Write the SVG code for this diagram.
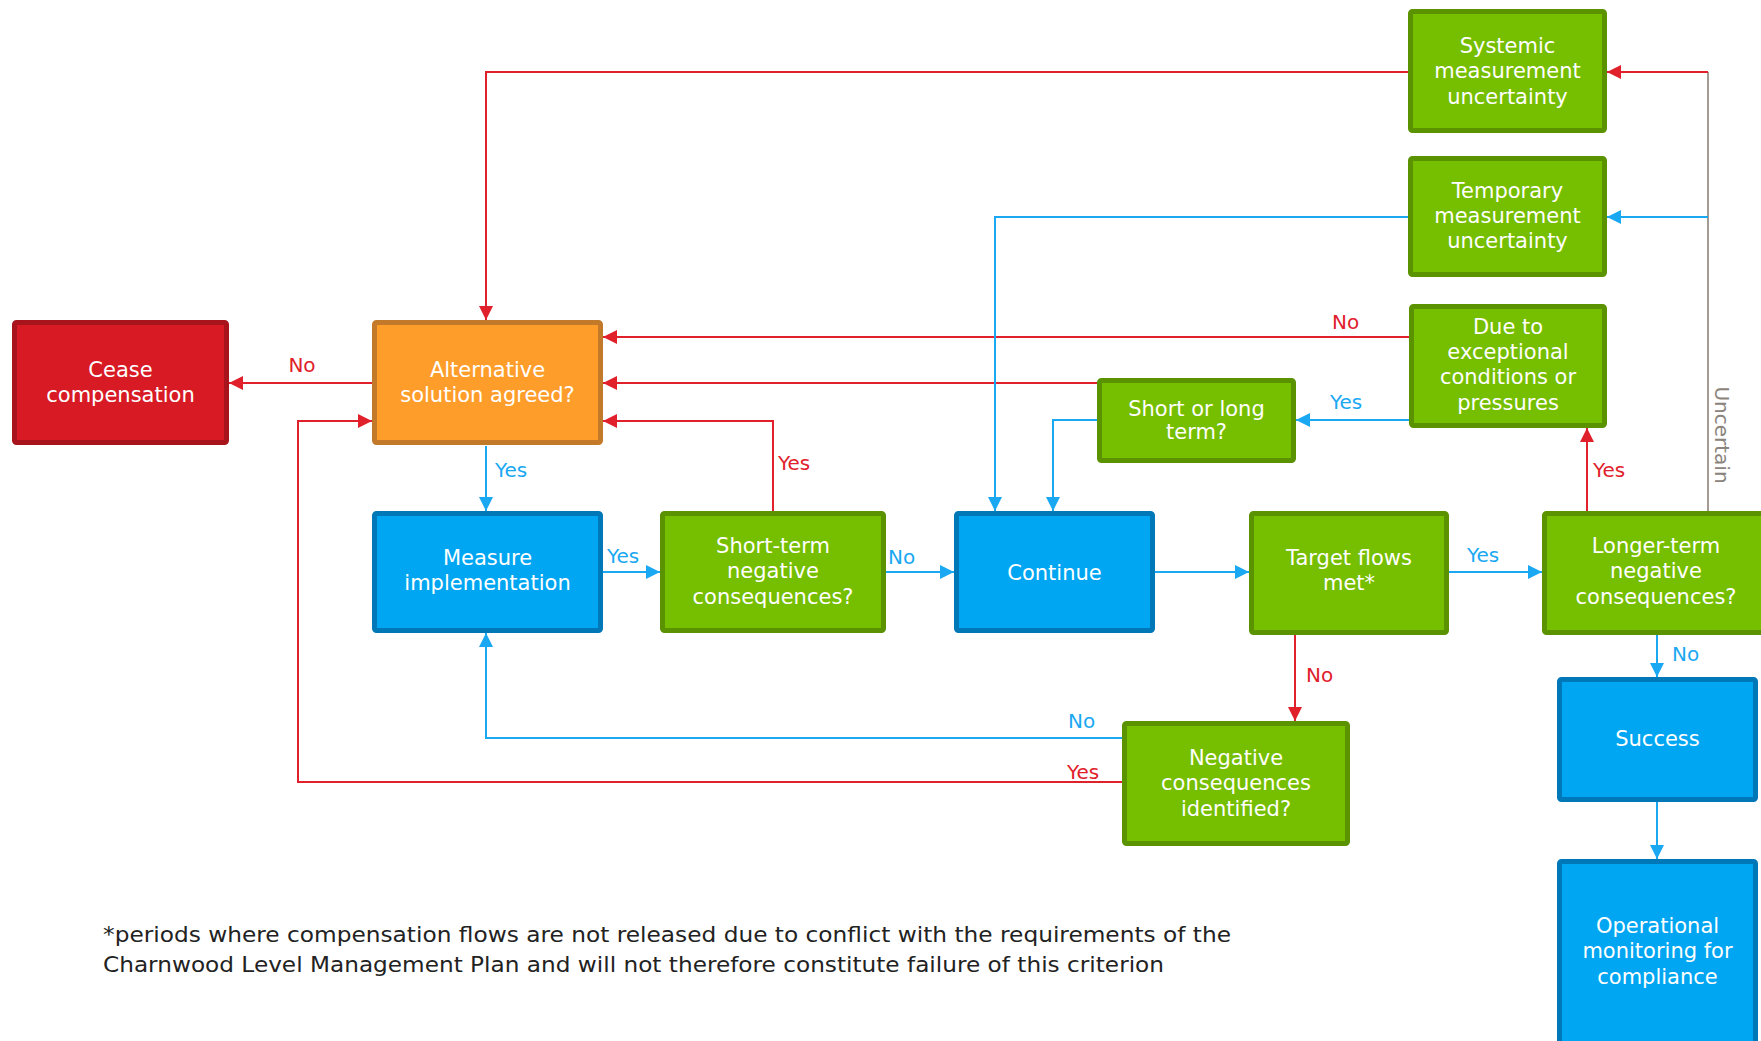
<svg xmlns="http://www.w3.org/2000/svg" width="1761" height="1041" viewBox="0 0 1761 1041">
<style>
.nt{font-family:"DejaVu Sans","Liberation Sans",sans-serif;font-size:21px;fill:#fff;text-anchor:middle}
.lb{font-family:"DejaVu Sans","Liberation Sans",sans-serif;font-size:20px}
.g{fill:#76BE00;stroke:#5A9200;stroke-width:5}
.b{fill:#00A6F2;stroke:#0078B8;stroke-width:5}
.o{fill:#FF9D2A;stroke:#C2792A;stroke-width:5}
.r{fill:#D71A24;stroke:#A8141C;stroke-width:5}
.cr{fill:none;stroke:#E0202B;stroke-width:2}
.cb{fill:none;stroke:#1AA8F2;stroke-width:2}
.cg{fill:none;stroke:#A39B92;stroke-width:2}
.tr{fill:#E0202B}
.tb{fill:#1AA8F2}
.tg{fill:#8A847C}
.fn{font-family:"DejaVu Sans","Liberation Sans",sans-serif;font-size:22px;fill:#222}
</style>
<defs>
<marker id="ar" markerUnits="userSpaceOnUse" markerWidth="14" markerHeight="14" refX="14" refY="7" orient="auto"><path d="M0,0 L14,7 L0,14 z" fill="#E0202B"/></marker>
<marker id="ab" markerUnits="userSpaceOnUse" markerWidth="14" markerHeight="14" refX="14" refY="7" orient="auto"><path d="M0,0 L14,7 L0,14 z" fill="#1AA8F2"/></marker>
</defs>
<rect width="1761" height="1041" fill="#fff"/>
<g id="connectors">
<path class="cr" d="M1408,72 H486 V320" marker-end="url(#ar)"/>
<path class="cg" d="M1708,511 V72"/>
<path class="cr" d="M1708,72 H1607" marker-end="url(#ar)"/>
<path class="cb" d="M1708,217 H1607" marker-end="url(#ab)"/>
<path class="cr" d="M1409,337 H603" marker-end="url(#ar)"/>
<path class="cr" d="M1097,383 H603" marker-end="url(#ar)"/>
<path class="cr" d="M773,511 V421 H603" marker-end="url(#ar)"/>
<path class="cr" d="M372,383 H229" marker-end="url(#ar)"/>
<path class="cr" d="M1295,635 V721" marker-end="url(#ar)"/>
<path class="cr" d="M1587,511 V428" marker-end="url(#ar)"/>
<path class="cr" d="M1122,782 H298 V421 H372" marker-end="url(#ar)"/>
<path class="cb" d="M1408,217 H995 V511" marker-end="url(#ab)"/>
<path class="cb" d="M1409,420 H1296" marker-end="url(#ab)"/>
<path class="cb" d="M1097,420 H1053 V511" marker-end="url(#ab)"/>
<path class="cb" d="M486,446 V511" marker-end="url(#ab)"/>
<path class="cb" d="M603,572 H660" marker-end="url(#ab)"/>
<path class="cb" d="M886,572 H954" marker-end="url(#ab)"/>
<path class="cb" d="M1155,572 H1249" marker-end="url(#ab)"/>
<path class="cb" d="M1449,572 H1542" marker-end="url(#ab)"/>
<path class="cb" d="M1657,635 V677" marker-end="url(#ab)"/>
<path class="cb" d="M1657,802 V859" marker-end="url(#ab)"/>
<path class="cb" d="M1122,738 H486 V633" marker-end="url(#ab)"/>
<text class="lb tr" x="302" y="372" text-anchor="middle">No</text>
<text class="lb tb" x="495" y="477">Yes</text>
<text class="lb tb" x="607" y="563">Yes</text>
<text class="lb tr" x="778" y="470">Yes</text>
<text class="lb tb" x="888" y="564">No</text>
<text class="lb tr" x="1332" y="329">No</text>
<text class="lb tb" x="1330" y="409">Yes</text>
<text class="lb tr" x="1593" y="477">Yes</text>
<text class="lb tb" x="1467" y="562">Yes</text>
<text class="lb tr" x="1306" y="682">No</text>
<text class="lb tb" x="1672" y="661">No</text>
<text class="lb tb" x="1068" y="728">No</text>
<text class="lb tr" x="1067" y="779">Yes</text>
<text class="lb tg" transform="translate(1715,435) rotate(90)" text-anchor="middle">Uncertain</text>
</g>
<g id="cease"><rect class="r" x="14.5" y="322.5" width="212" height="120" rx="2"/><text class="nt" x="120.5" y="377">Cease</text><text class="nt" x="120.5" y="402">compensation</text></g>
<g id="alternative"><rect class="o" x="374.5" y="322.5" width="226" height="120" rx="2"/><text class="nt" x="487.5" y="377">Alternative</text><text class="nt" x="487.5" y="402">solution agreed?</text></g>
<g id="systemic"><rect class="g" x="1410.5" y="11.5" width="194" height="119" rx="2"/><text class="nt" x="1507.5" y="53">Systemic</text><text class="nt" x="1507.5" y="78">measurement</text><text class="nt" x="1507.5" y="104">uncertainty</text></g>
<g id="temporary"><rect class="g" x="1410.5" y="158.5" width="194" height="116" rx="2"/><text class="nt" x="1507.5" y="198">Temporary</text><text class="nt" x="1507.5" y="223">measurement</text><text class="nt" x="1507.5" y="248">uncertainty</text></g>
<g id="dueto"><rect class="g" x="1411.5" y="306.5" width="193" height="119" rx="2"/><text class="nt" x="1508" y="334">Due to</text><text class="nt" x="1508" y="359">exceptional</text><text class="nt" x="1508" y="384">conditions or</text><text class="nt" x="1508" y="410">pressures</text></g>
<g id="shortlong"><rect class="g" x="1099.5" y="380.5" width="194" height="80" rx="2"/><text class="nt" x="1196.5" y="416">Short or long</text><text class="nt" x="1196.5" y="439">term?</text></g>
<g id="measure"><rect class="b" x="374.5" y="513.5" width="226" height="117" rx="2"/><text class="nt" x="487.5" y="565">Measure</text><text class="nt" x="487.5" y="590">implementation</text></g>
<g id="shortterm"><rect class="g" x="662.5" y="513.5" width="221" height="117" rx="2"/><text class="nt" x="773" y="553">Short-term</text><text class="nt" x="773" y="578">negative</text><text class="nt" x="773" y="604">consequences?</text></g>
<g id="continue"><rect class="b" x="956.5" y="513.5" width="196" height="117" rx="2"/><text class="nt" x="1054.5" y="580">Continue</text></g>
<g id="target"><rect class="g" x="1251.5" y="513.5" width="195" height="119" rx="2"/><text class="nt" x="1349" y="565">Target flows</text><text class="nt" x="1349" y="590">met*</text></g>
<g id="longer"><rect class="g" x="1544.5" y="513.5" width="230" height="119" rx="2"/><text class="nt" x="1656" y="553">Longer-term</text><text class="nt" x="1656" y="578">negative</text><text class="nt" x="1656" y="604">consequences?</text></g>
<g id="success"><rect class="b" x="1559.5" y="679.5" width="196" height="120" rx="2"/><text class="nt" x="1657.5" y="746">Success</text></g>
<g id="operational"><rect class="b" x="1559.5" y="861.5" width="196" height="190" rx="2"/><text class="nt" x="1657.5" y="933">Operational</text><text class="nt" x="1657.5" y="958">monitoring for</text><text class="nt" x="1657.5" y="984">compliance</text></g>
<g id="negative"><rect class="g" x="1124.5" y="723.5" width="223" height="120" rx="2"/><text class="nt" x="1236" y="765">Negative</text><text class="nt" x="1236" y="790">consequences</text><text class="nt" x="1236" y="816">identified?</text></g>
<g id="footnote"><text class="fn" x="103" y="942" textLength="1128" lengthAdjust="spacingAndGlyphs">*periods where compensation flows are not released due to conflict with the requirements of the</text><text class="fn" x="103" y="972" textLength="1061" lengthAdjust="spacingAndGlyphs">Charnwood Level Management Plan and will not therefore constitute failure of this criterion</text></g>
</svg>
